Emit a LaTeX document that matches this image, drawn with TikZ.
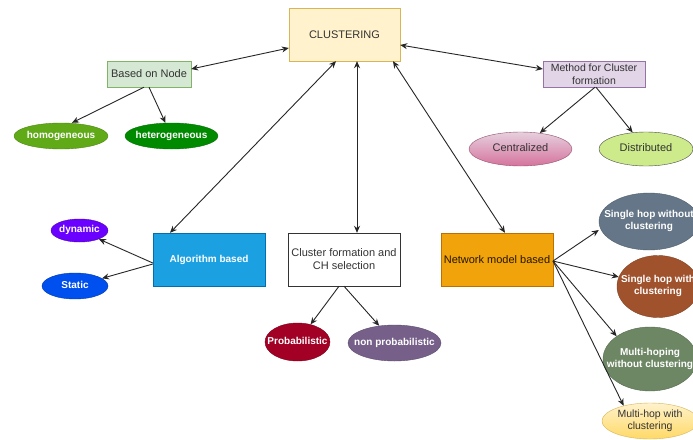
\documentclass[tikz,border=0pt]{standalone}
\usepackage{fontspec}
\setmainfont{Liberation Sans}
\usetikzlibrary{shapes.geometric,arrows.meta}
\definecolor{cyel}{HTML}{FFF2CC}\definecolor{cyelb}{HTML}{D6B656}
\definecolor{cgrn}{HTML}{D5E8D4}\definecolor{cgrnb}{HTML}{82B366}
\definecolor{cpur}{HTML}{E1D5E7}\definecolor{cpurb}{HTML}{9673A6}
\definecolor{homo}{HTML}{60A917}\definecolor{hetero}{HTML}{008A00}
\definecolor{algo}{HTML}{1BA1E2}\definecolor{algob}{HTML}{006EAF}
\definecolor{dyn}{HTML}{6A00FF}\definecolor{stat}{HTML}{0050EF}
\definecolor{prob}{HTML}{A20025}\definecolor{nprob}{HTML}{76608A}
\definecolor{netw}{HTML}{F0A30A}\definecolor{netwb}{HTML}{BD7000}
\definecolor{sone}{HTML}{647687}\definecolor{stwo}{HTML}{A0522D}
\definecolor{sthree}{HTML}{6D8764}
\definecolor{dist}{HTML}{CDEB8B}\definecolor{txt}{HTML}{333333}
\definecolor{pinkt}{HTML}{E6D0DE}\definecolor{pinkb}{HTML}{D5739D}
\definecolor{yelt}{HTML}{FFF2CC}\definecolor{yelb}{HTML}{FFD966}
\newcommand{\zw}[1]{\makebox[0pt][c]{\begin{tabular}{@{}c@{}}#1\end{tabular}}}
\tikzset{
  rbox/.style={rectangle,draw,inner sep=0pt,align=center,font=\fontsize{11}{13}\selectfont,text=txt},
  oval/.style={ellipse,draw,inner sep=0pt,font=\fontsize{10}{12}\selectfont\bfseries,text=white},
  conn/.style={draw=black!85,line width=0.9pt,-{Stealth[length=7pt,width=6pt]}},
  bconn/.style={draw=black!85,line width=0.9pt,{Stealth[length=7pt,width=6pt]}-{Stealth[length=7pt,width=6pt]}}
}
\begin{document}
\begin{tikzpicture}[x=1pt,y=-1pt]
\useasboundingbox (0,0) rectangle (693,439);
\fill[white] (0,0) rectangle (693,439);
% boxes
\node[rbox,fill=cyel,draw=cyelb,minimum width=111pt,minimum height=53pt] (clu) at (344.5,34.5) {CLUSTERING};
\node[rbox,fill=cgrn,draw=cgrnb,minimum width=84pt,minimum height=26pt] (bon) at (149,74) {Based on Node};
\node[rbox,fill=cpur,draw=cpurb,minimum width=102pt,minimum height=26pt,font=\fontsize{10.5}{12.5}\selectfont] (meth) at (594,74) {Method for Cluster\\formation};
\node[rbox,fill=algo,draw=algob,minimum width=112pt,minimum height=53pt,text=white,font=\fontsize{10}{12}\selectfont\bfseries] (alg) at (209,259.5) {Algorithm based};
\node[rbox,fill=white,draw=black!80,minimum width=112pt,minimum height=53pt] (cfs) at (344,259.5) {Cluster formation and\\CH selection};
\node[rbox,fill=netw,draw=netwb,minimum width=112pt,minimum height=53pt,text=black!80!netwb] (net) at (497,259.5) {Network model based};
% ovals
\node[oval,fill=homo,draw=homo!80!black,minimum width=94pt,minimum height=26pt] (homo) at (61,136) {\zw{homogeneous}};
\node[oval,fill=hetero,draw=hetero!80!black,minimum width=93pt,minimum height=26pt] (het) at (171.5,136) {\zw{heterogeneous}};
\node[oval,top color=pinkt,bottom color=pinkb,draw=pinkb!70!black,minimum width=103pt,minimum height=34pt,text=txt,font=\fontsize{11}{13}\selectfont] (cen) at (520.5,149) {\zw{Centralized}};
\node[oval,fill=dist,draw=black!70,minimum width=94pt,minimum height=34pt,text=txt,font=\fontsize{11}{13}\selectfont] (dis) at (646,149) {\zw{Distributed}};
\node[oval,fill=dyn,draw=dyn!70!black,minimum width=57pt,minimum height=23pt] (dyn) at (79.5,230.5) {\zw{dynamic}};
\node[oval,fill=stat,draw=stat!70!black,minimum width=66pt,minimum height=26pt] (sta) at (75,286) {\zw{Static}};
\node[oval,fill=prob,draw=prob!80!black,minimum width=65pt,minimum height=38pt] (pro) at (297.5,342) {\zw{Probabilistic}};
\node[oval,fill=nprob,draw=nprob!80!black,minimum width=93pt,minimum height=36pt] (npr) at (394.5,343) {\zw{non probabilistic}};
\node[oval,fill=sone,draw=sone!80!black,minimum width=100pt,minimum height=57pt] (s1) at (649,221.5) {\zw{Single hop without\\clustering}};
\node[oval,fill=stwo,draw=stwo!80!black,minimum width=82pt,minimum height=62pt] (s2) at (658,286.5) {\zw{Single hop with\\clustering}};
\node[oval,fill=sthree,draw=sthree!80!black,minimum width=94pt,minimum height=64pt] (s3) at (650,359) {\zw{Multi-hoping\\without clustering}};
\node[oval,top color=yelt,bottom color=yelb,draw=cyelb,minimum width=96pt,minimum height=36pt,text=txt,font=\fontsize{10.5}{12.5}\selectfont] (s4) at (650,421) {\zw{Multi-hop with\\clustering}};
% connectors
\draw[bconn] (bon.east |- 0,69) -- (clu.west |- 0,48);
\draw[bconn] (clu.east |- 0,45) -- (meth.west |- 0,69);
\draw[bconn] (clu.south -| 336,0) -- (alg.north -| 170,0);
\draw[bconn] (clu.south -| 357,0) -- (cfs.north -| 357,0);
\draw[bconn] (clu.south -| 393,0) -- (net.north -| 505,0);
\draw[conn] (bon.south -| 144,0) -- (homo.north -| 72,0);
\draw[conn] (bon.south -| 149,0) -- (het);
\draw[conn] (meth.south -| 595,0) -- (cen);
\draw[conn] (meth.south -| 596,0) -- (dis);
\draw[conn] (alg.west |- 0,263) -- (dyn);
\draw[conn] (alg.west |- 0,264) -- (sta);
\draw[conn] (cfs.south -| 339,0) -- (pro);
\draw[conn] (cfs.south -| 344,0) -- (npr);
\coordinate (ne) at (553,261);
\draw[conn] (ne) -- (s1.west |- 0,230);
\draw[conn] (ne) -- (s2);
\draw[conn] (ne) -- (s3.north west);
\draw[conn] (ne) -- (s4.150);
\end{tikzpicture}
\end{document}
